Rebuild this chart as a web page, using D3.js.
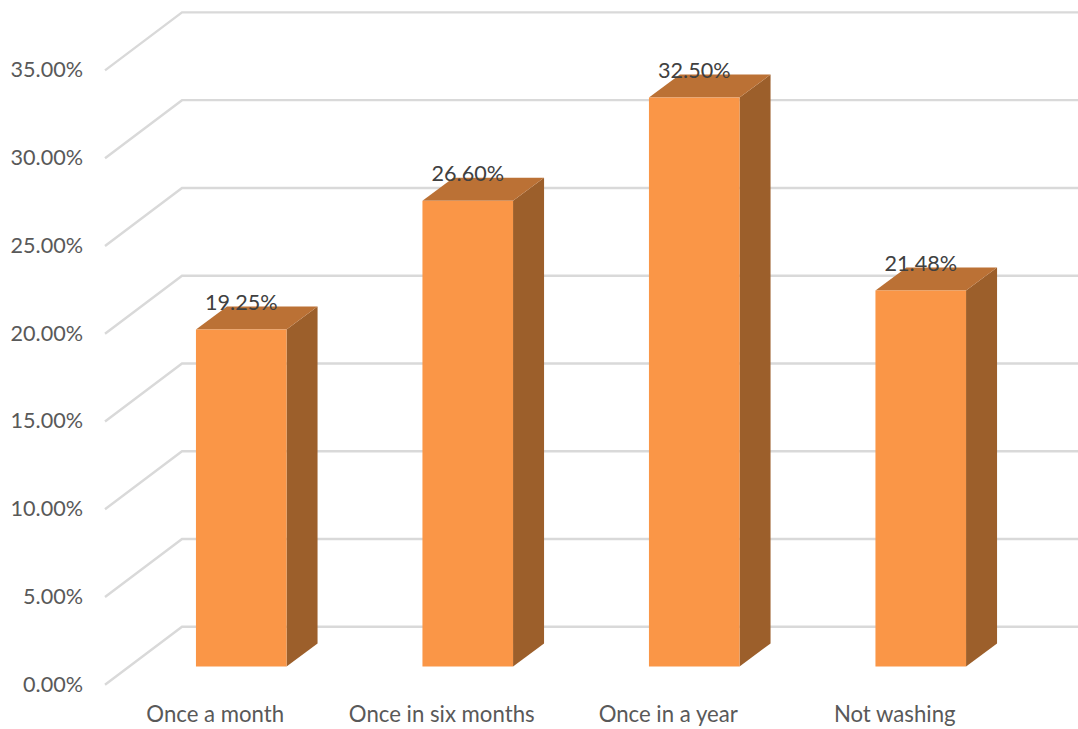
<!DOCTYPE html>
<html>
<head>
<meta charset="utf-8">
<script src="https://cdn.jsdelivr.net/npm/d3@7/dist/d3.min.js"></script>
<style>
html,body{margin:0;padding:0;background:#fff;overflow:hidden}
svg{display:block}
text{font-family:Lato,"Open Sans",sans-serif}
</style>
</head>
<body>
<svg id="chart" width="1078" height="729"></svg>
<script>
// Washing frequency shares, drawn as a pseudo-3D column chart
const categories = ["Once a month", "Once in six months", "Once in a year", "Not washing"];
const shares = [19.25, 26.60, 32.50, 21.48];
const tickValues = [0, 5, 10, 15, 20, 25, 30, 35];

const svg = d3.select("#chart");
const fmt = v => v.toFixed(2) + "%";

// Back wall scale; the front edge and the bars are the same scale shifted in depth
const wallY = d3.scaleLinear().domain([0, 35]).range([626.8, 12.4]);
const barY = d3.scaleLinear().domain([0, 35]).range([666.5, 53.8]);
const x = d3.scaleBand().domain(categories).range([128, 1034]).paddingInner(0.6).paddingOuter(0.3);

const wallLeft = 182, wallRight = 1078;
const depthX = 77, depthY = 58;       // floor/wall depth offset
const barDepthX = 31, barDepthY = 23; // column depth offset

// Gridlines: a horizontal run along the wall plus a diagonal on the side wall
svg.append("g").selectAll("path").data(tickValues).join("path")
  .attr("d", d => {
    const y = wallY(d);
    return `M${wallLeft - depthX},${y + depthY}L${wallLeft},${y}L${wallRight},${y}`;
  })
  .attr("fill", "none")
  .attr("stroke", "#d9d9d9")
  .attr("stroke-width", 2.4);

// Value axis labels
svg.append("g").selectAll("text").data(tickValues).join("text")
  .attr("x", 83)
  .attr("y", d => wallY(d) + depthY + 7)
  .attr("text-anchor", "end")
  .attr("font-size", 21.6)
  .attr("fill", "#595959")
  .text(fmt);

// Columns: side face, top face, front face
const bars = svg.append("g").selectAll("g")
  .data(categories.map((c, i) => ({c, v: shares[i]})))
  .join("g");

bars.append("path")
  .attr("d", d => {
    const r = x(d.c) + x.bandwidth(), t = barY(d.v), b = barY(0);
    return `M${r},${t}L${r + barDepthX},${t - barDepthY}L${r + barDepthX},${b - barDepthY}L${r},${b}Z`;
  })
  .attr("fill", "#9c5f2b");

bars.append("path")
  .attr("d", d => {
    const l = x(d.c), r = l + x.bandwidth(), t = barY(d.v);
    return `M${l},${t}L${l + barDepthX},${t - barDepthY}L${r + barDepthX},${t - barDepthY}L${r},${t}Z`;
  })
  .attr("fill", "#bb7135");

bars.append("rect")
  .attr("x", d => x(d.c))
  .attr("y", d => barY(d.v))
  .attr("width", x.bandwidth())
  .attr("height", d => barY(0) - barY(d.v))
  .attr("fill", "#fa9647");

// Value labels sit on the top face of each column
bars.append("text")
  .attr("x", d => x(d.c) + x.bandwidth() / 2)
  .attr("y", d => barY(d.v) - 19.5)
  .attr("text-anchor", "middle")
  .attr("font-size", 21.6)
  .attr("fill", "#404040")
  .text(d => fmt(d.v));

// Category labels along the front edge of the floor
svg.append("g").selectAll("text").data(categories).join("text")
  .attr("x", d => x(d) + x.bandwidth() / 2 - 26)
  .attr("y", 722)
  .attr("text-anchor", "middle")
  .attr("font-size", 22.2)
  .attr("fill", "#595959")
  .text(d => d);
</script>
</body>
</html>
